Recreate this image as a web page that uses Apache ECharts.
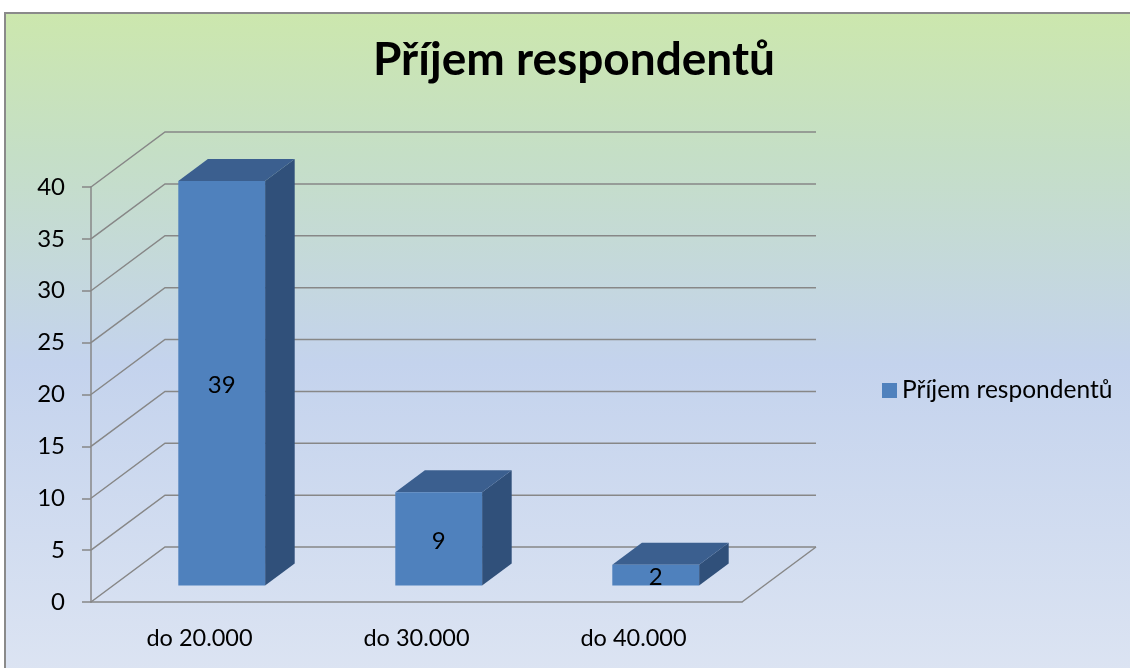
<!DOCTYPE html>
<html><head><meta charset="utf-8">
<script src="https://cdn.jsdelivr.net/npm/echarts@6/dist/echarts.min.js"></script>
<style>html,body{margin:0;padding:0;background:#fff}#c{width:1130px;height:668px}</style>
</head><body><div id="c"></div>
<script>
// ---- data ----
const titleText = 'Příjem respondentů';
const seriesName = 'Příjem respondentů';
const categories = ['do 20.000', 'do 30.000', 'do 40.000'];
const values = [39, 9, 2];
const yTicks = [0, 5, 10, 15, 20, 25, 30, 35, 40];

// ---- styling constants ----
const DX = 74, DY = -55;           // depth of the 3D box
const GRID_COLOR = '#878787';
const FONT = 'Lato, "Open Sans", sans-serif';

const chart = echarts.init(document.getElementById('c'), null, {renderer: 'canvas'});

function renderGrid(params, api) {
  const cs = params.coordSys;
  const v = api.value(1);
  const y = api.coord([0, v])[1];
  const L = cs.x, R = cs.x + cs.width;
  const st = {stroke: GRID_COLOR, lineWidth: 1.5, fill: null};
  const children = [
    {type: 'polyline', shape: {points: [[L, y], [L + DX, y + DY], [R + DX, y + DY]]}, style: st}
  ];
  if (v === 0) {
    children.push({type: 'polyline', shape: {points: [[R, y], [R + DX, y + DY]]}, style: st});
  }
  return {type: 'group', children};
}

function renderBar(params, api) {
  const i = api.value(0), v = api.value(1);
  const top = api.coord([i, v]);
  const base = api.coord([i, 0]);
  const band = api.size([1, 0])[0];
  const w = band * 0.4;
  const fx = DX * 0.3, fy = DY * 0.3, bx = DX * 0.4, by = DY * 0.4;
  const x0 = top[0] - w / 2 + fx, x1 = x0 + w;
  const yt = top[1] + fy, yb = base[1] + fy;
  return {
    type: 'group',
    children: [
      {type: 'polygon', shape: {points: [[x1, yt], [x1 + bx, yt + by], [x1 + bx, yb + by], [x1, yb]]}, style: {fill: '#30507a'}},
      {type: 'polygon', shape: {points: [[x0, yt], [x1, yt], [x1 + bx, yt + by], [x0 + bx, yt + by]]}, style: {fill: '#3b5f8f'}},
      {type: 'rect', shape: {x: x0, y: yt, width: w, height: yb - yt}, style: {fill: '#4f81bd'}},
      {type: 'text', x: (x0 + x1) / 2, y: (yt + yb) / 2 + 2,
        style: {text: String(v), fill: '#000', font: '24px ' + FONT, align: 'center', verticalAlign: 'middle'}}
    ]
  };
}

chart.setOption({
  animation: false,
  graphic: [{
    type: 'rect', z: -10, silent: true,
    shape: {x: 5, y: 13, width: 1140, height: 700},
    style: {
      fill: new echarts.graphic.LinearGradient(0, 0, 0, 1, [
        {offset: 0, color: '#cce7ad'},
        {offset: 0.2, color: '#c5dfc6'},
        {offset: 0.5, color: '#c4d3ed'},
        {offset: 1, color: '#dfe6f3'}
      ]),
      stroke: '#8a8a8a', lineWidth: 2
    }
  }],
  title: {
    text: titleText, left: 569, top: 32, textAlign: 'center',
    textStyle: {fontFamily: FONT, fontWeight: 'bold', fontSize: 46, color: '#000'}
  },
  legend: {
    data: [seriesName], left: 877, top: 373, icon: 'rect', itemWidth: 15, itemHeight: 15, itemGap: 6,
    textStyle: {fontFamily: FONT, fontSize: 24.5, color: '#000'}
  },
  grid: {left: 91, right: 388, top: 187, bottom: 66, containLabel: false},
  xAxis: {
    type: 'category', data: categories,
    axisLine: {lineStyle: {color: GRID_COLOR, width: 1.5}},
    axisTick: {length: 7, lineStyle: {color: GRID_COLOR, width: 1.5}},
    axisLabel: {fontFamily: FONT, fontSize: 23.5, color: '#000', margin: 24}
  },
  yAxis: {
    type: 'value', min: 0, max: 40, interval: 5,
    axisLine: {show: true, lineStyle: {color: GRID_COLOR, width: 1.5}},
    axisTick: {show: true, length: 9, lineStyle: {color: GRID_COLOR, width: 1.5}},
    axisLabel: {fontFamily: FONT, fontSize: 24, color: '#000', margin: 26},
    splitLine: {show: false}
  },
  series: [
    {
      type: 'custom', name: 'grid', silent: true, z: 1,
      renderItem: renderGrid,
      data: yTicks.map(t => [0, t]),
      encode: {x: 0, y: 1}
    },
    {
      type: 'custom', name: seriesName, z: 3,
      itemStyle: {color: '#4f81bd'},
      renderItem: renderBar,
      data: values.map((v, i) => [i, v]),
      encode: {x: 0, y: 1}
    }
  ]
});
</script>
</body></html>
